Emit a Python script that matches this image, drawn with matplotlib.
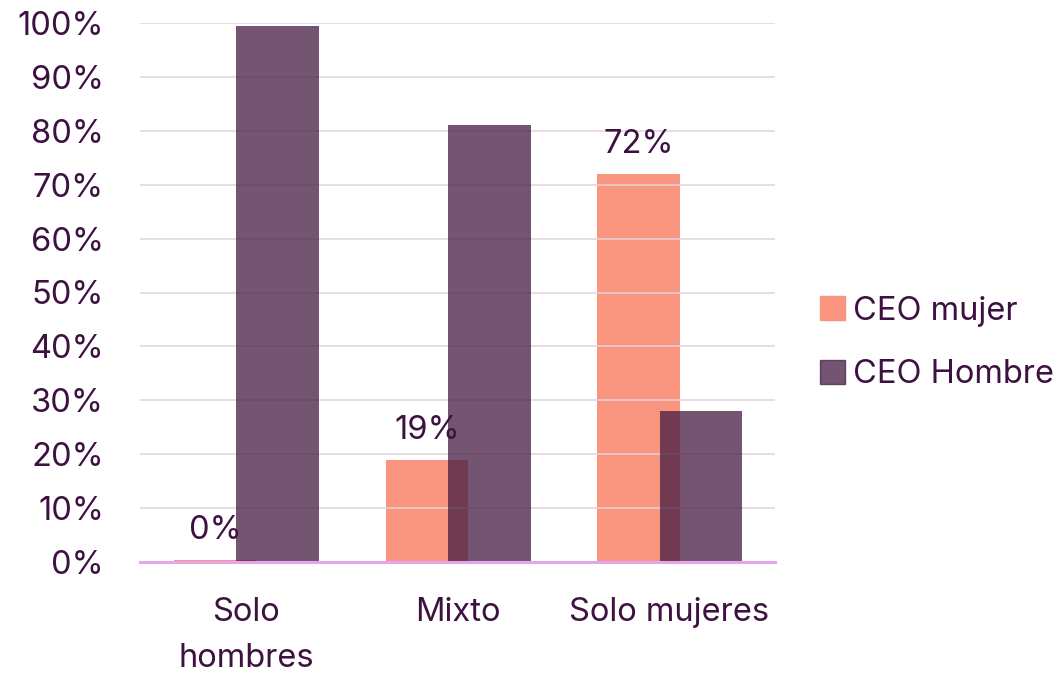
import numpy as np
import matplotlib.pyplot as plt
from matplotlib.patches import Patch

# data
categorias = ['Solo\nhombres', 'Mixto', 'Solo mujeres']
ceo_mujer = [0.4, 19, 72]
ceo_hombre = [99.5, 81, 28]
etiquetas_mujer = ['0%', '19%', '72%']

texto = '#3d1140'
salmon = '#f9957e'
morado = '#441c43'

plt.rcParams['font.family'] = ['Inter', 'DejaVu Sans']
fs = 23.5

fig = plt.figure(figsize=(10.61, 6.76), dpi=100)
ax = fig.add_axes([140/1061, 1-562/676, 635/1061, 539/676])

x = np.arange(len(categorias))
w = 0.39
b1 = ax.bar(x - 0.145, ceo_mujer, w, color=salmon, zorder=2)
b2 = ax.bar(x + 0.15, ceo_hombre, w, color=morado, alpha=0.75, zorder=3)

# etiquetas de CEO mujer
for xi, v, t in zip(x - 0.145, ceo_mujer, etiquetas_mujer):
    ax.annotate(t, (xi, v), xytext=(0, 21), textcoords='offset points',
                ha='center', va='center', fontsize=fs, color=texto, zorder=4)

ax.set_xlim(-0.5, 2.5)
ax.set_ylim(0, 100)
ax.set_yticks(np.arange(0, 101, 10))
ax.set_yticklabels([f'{v}%' for v in range(0, 101, 10)])
ax.set_xticks(x)
ax.set_xticklabels(categorias, linespacing=1.65)
ax.tick_params(axis='both', length=0, labelsize=fs, labelcolor=texto)
ax.tick_params(axis='y', pad=26)
ax.tick_params(axis='x', pad=25)

ax.grid(axis='y', color='#e2d2de', linewidth=1.1, zorder=1)
ax.set_axisbelow(False)
for s in ['top', 'right', 'left']:
    ax.spines[s].set_visible(False)
ax.spines['bottom'].set_color('#e4a6ea')
ax.spines['bottom'].set_linewidth(2.2)
ax.spines['bottom'].set_zorder(5)

handles = [Patch(color=salmon), Patch(color=morado, alpha=0.75)]
fig.legend(handles, ['CEO mujer', 'CEO Hombre'], loc='center left',
           bbox_to_anchor=(791/1061, 1-343/676), frameon=False,
           fontsize=fs, labelcolor=texto, handlelength=0.75, handleheight=0.75,
           handletextpad=0.25, labelspacing=1.0)

fig.savefig('out.png', dpi=100)
